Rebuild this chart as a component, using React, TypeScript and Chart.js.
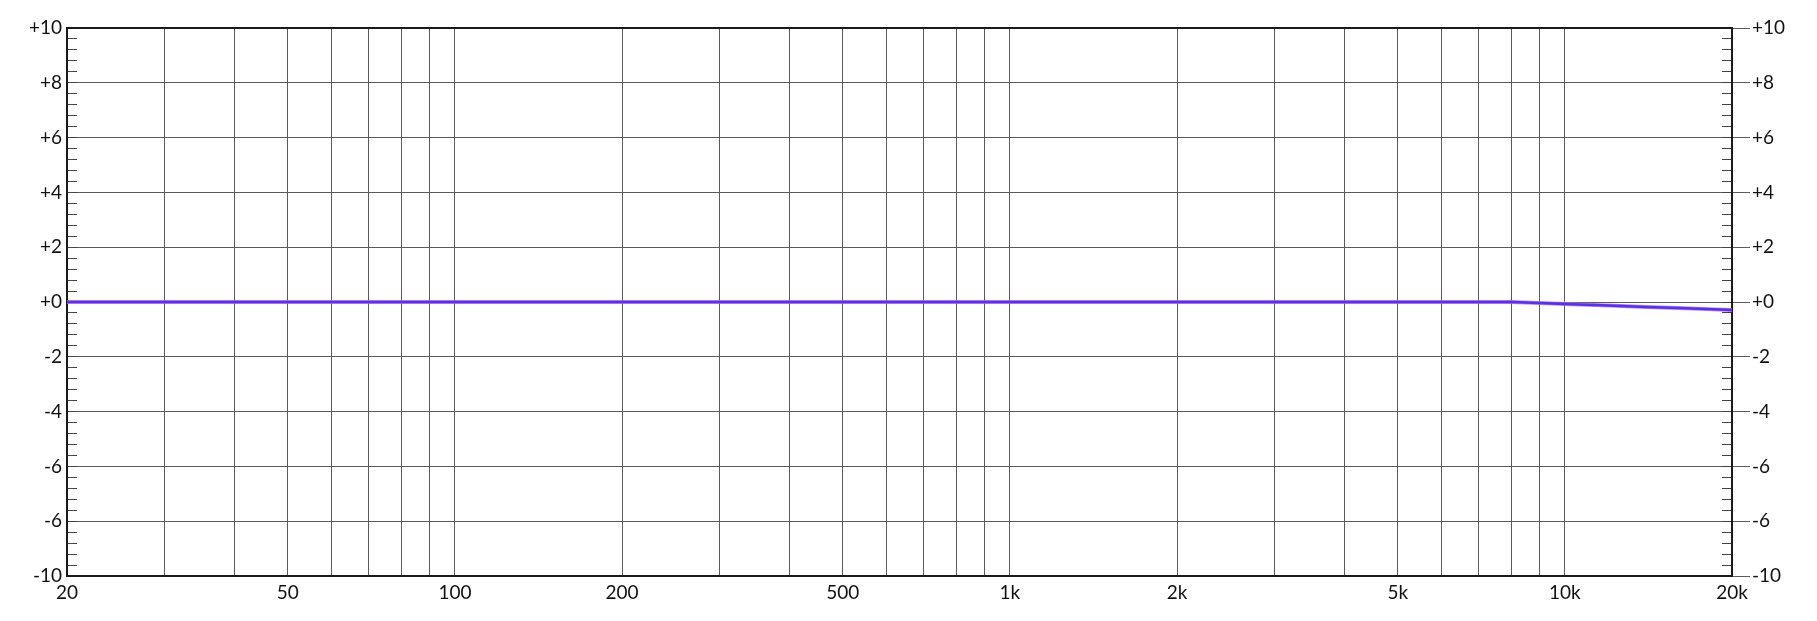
import { useEffect, useRef } from 'react';
import { Chart, registerables } from 'chart.js';

Chart.register(...registerables);

// frequency response, two channels drawn almost on top of each other
const FREQ_HZ = [20, 50, 100, 200, 500, 1000, 2000, 5000, 8000, 9000, 10000, 12000, 14000, 16000, 18000, 20000];
const LEFT_DB = [0, 0, 0, 0, 0, 0, 0, 0, 0, -0.04, -0.07, -0.13, -0.18, -0.22, -0.26, -0.29];
const RIGHT_DB = [0, 0, 0, 0, 0, 0, 0, 0, 0, -0.04, -0.07, -0.13, -0.18, -0.22, -0.26, -0.29];

const GRID_FREQS = [
  20, 30, 40, 50, 60, 70, 80, 90,
  100, 200, 300, 400, 500, 600, 700, 800, 900,
  1000, 2000, 3000, 4000, 5000, 6000, 7000, 8000, 9000,
  10000, 20000
];
const LABELED_FREQS = [20, 50, 100, 200, 500, 1000, 2000, 5000, 10000, 20000];
const FREQ_TICK_LABELS = ['20', '50', '100', '200', '500', '1k', '2k', '5k', '10k', '20k'];

const DB_MAJOR = [10, 8, 6, 4, 2, 0, -2, -4, -6, -8, -10];
const DB_TICK_LABELS = ['+10', '+8', '+6', '+4', '+2', '+0', '-2', '-4', '-6', '-6', '-10'];
const MINOR_DIVISIONS = 5;

const FONT = { family: 'Lato', size: 19 };
const TEXT_COLOR = '#111';
const GRID_COLOR = '#5a5a5a';
const AXIS_COLOR = '#1a1a1a';

function dbTicks() {
  const sorted = [...DB_MAJOR].sort((a, b) => a - b);
  const out: { value: number }[] = [];
  for (let i = 0; i < sorted.length; i += 1) {
    out.push({ value: sorted[i] });
    if (i < sorted.length - 1) {
      const step = (sorted[i + 1] - sorted[i]) / MINOR_DIVISIONS;
      for (let k = 1; k < MINOR_DIVISIONS; k += 1) {
        out.push({ value: Math.round((sorted[i] + k * step) * 1000) / 1000 });
      }
    }
  }
  return out;
}

function majorIndex(v: number) {
  return DB_MAJOR.findIndex(m => Math.abs(m - v) < 1e-6);
}

function dbLabel(v: number | string) {
  const i = majorIndex(Number(v));
  return i >= 0 ? DB_TICK_LABELS[i] : '';
}

function freqLabel(v: number | string) {
  const i = LABELED_FREQS.indexOf(Number(v));
  return i >= 0 ? FREQ_TICK_LABELS[i] : '';
}

export default function App() {
  const canvasRef = useRef<HTMLCanvasElement | null>(null);

  useEffect(() => {
    const canvas = canvasRef.current;
    if (!canvas) return;

    const chart = new Chart(canvas, {
      type: 'line',
      data: {
        datasets: [
          {
            label: 'R',
            data: FREQ_HZ.map((f, i) => ({ x: f, y: RIGHT_DB[i] })),
            borderColor: '#4f36e6',
            borderWidth: 2.5,
            pointRadius: 0,
            tension: 0
          },
          {
            label: 'L',
            data: FREQ_HZ.map((f, i) => ({ x: f, y: LEFT_DB[i] })),
            borderColor: 'rgba(196, 96, 232, 0.8)',
            borderWidth: 4,
            pointRadius: 0,
            tension: 0
          }
        ]
      },
      options: {
        animation: false,
        responsive: true,
        maintainAspectRatio: false,
        layout: { padding: { top: 28, left: 0, right: 0, bottom: 0 } },
        plugins: { legend: { display: false }, tooltip: { enabled: false } },
        scales: {
          x: {
            type: 'logarithmic',
            position: 'bottom',
            min: 20,
            max: 20000,
            afterBuildTicks: scale => {
              scale.ticks = GRID_FREQS.map(v => ({ value: v }));
            },
            afterFit: scale => {
              scale.height = 45;
            },
            ticks: {
              callback: v => freqLabel(v),
              autoSkip: false,
              maxRotation: 0,
              padding: 5,
              font: FONT,
              color: TEXT_COLOR
            },
            grid: { color: GRID_COLOR, lineWidth: 1, drawTicks: false },
            border: { color: AXIS_COLOR, width: 2 }
          },
          xTop: {
            type: 'logarithmic',
            position: 'top',
            min: 20,
            max: 20000,
            afterFit: scale => {
              scale.height = 0;
            },
            ticks: { display: false },
            grid: { display: false },
            border: { color: AXIS_COLOR, width: 2 }
          },
          y: {
            position: 'left',
            min: -10,
            max: 10,
            afterBuildTicks: scale => {
              scale.ticks = dbTicks();
            },
            afterFit: scale => {
              scale.width = 67;
            },
            ticks: {
              callback: v => dbLabel(v),
              autoSkip: false,
              padding: 15,
              font: FONT,
              color: TEXT_COLOR
            },
            grid: {
              color: c => (majorIndex(c.tick.value) >= 0 ? GRID_COLOR : 'rgba(0,0,0,0)'),
              lineWidth: 1,
              tickLength: -10,
              tickColor: '#444',
              tickWidth: 1
            },
            border: { color: AXIS_COLOR, width: 2 }
          },
          yMinorRight: {
            position: 'right',
            weight: 0,
            min: -10,
            max: 10,
            afterBuildTicks: scale => {
              scale.ticks = dbTicks();
            },
            afterFit: scale => {
              scale.width = 0;
            },
            ticks: { display: false },
            grid: {
              drawOnChartArea: false,
              tickLength: -10,
              tickColor: '#444',
              tickWidth: 1
            },
            border: { display: false }
          },
          yRight: {
            position: 'right',
            weight: 10,
            min: -10,
            max: 10,
            afterBuildTicks: scale => {
              scale.ticks = dbTicks();
            },
            afterFit: scale => {
              scale.width = 85;
            },
            ticks: {
              callback: v => dbLabel(v),
              autoSkip: false,
              padding: 2,
              font: FONT,
              color: TEXT_COLOR
            },
            grid: {
              drawOnChartArea: false,
              tickLength: 18,
              tickColor: c => (majorIndex(c.tick.value) >= 0 ? GRID_COLOR : 'rgba(0,0,0,0)'),
              tickWidth: 1
            },
            border: { color: AXIS_COLOR, width: 2 }
          }
        }
      }
    });

    return () => {
      chart.destroy();
    };
  }, []);

  return (
    <div style={{ position: 'absolute', left: 0, top: 0, width: 1817, height: 621, background: '#fff' }}>
      <canvas ref={canvasRef} />
    </div>
  );
}
